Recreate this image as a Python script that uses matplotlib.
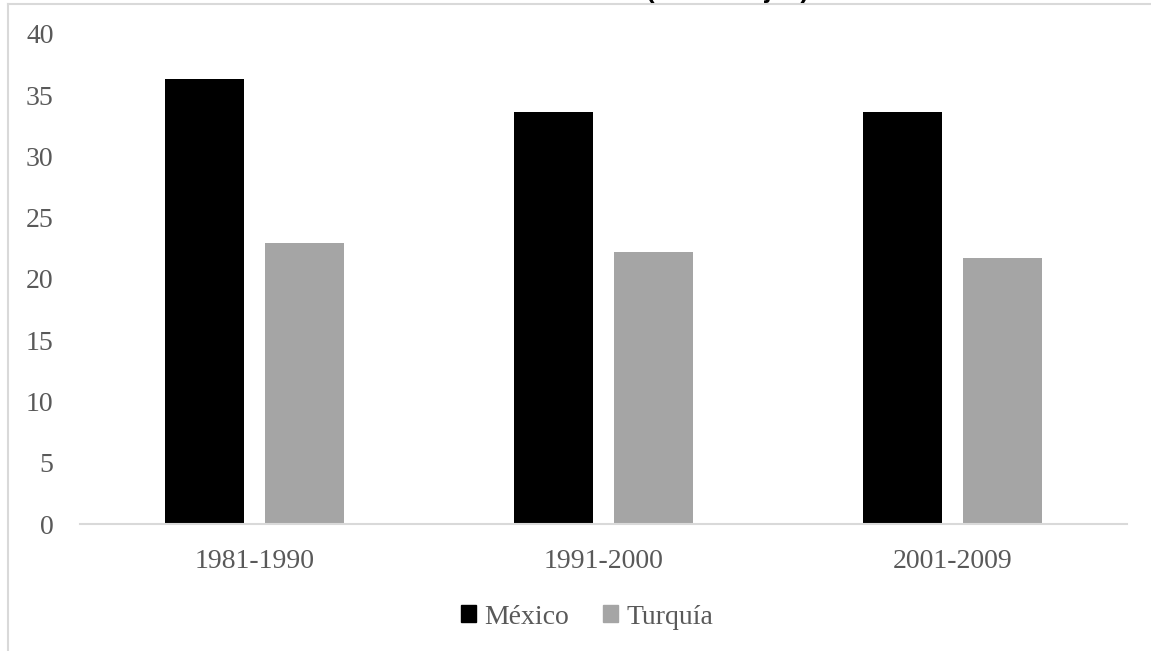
import numpy as np
import matplotlib.pyplot as plt
from matplotlib.lines import Line2D
from matplotlib.patches import Patch

# Valores por periodo
periodos = ['1981-1990', '1991-2000', '2001-2009']
mexico = [36.3, 33.6, 33.6]
turquia = [22.9, 22.2, 21.7]

color_texto = '#595959'
color_borde = '#d9d9d9'

plt.rcParams['font.family'] = ['Liberation Serif', 'DejaVu Serif']

fig = plt.figure(figsize=(11.51, 6.51), dpi=100)
ax = fig.add_axes([0.0695, 0.195, 0.9095, 0.753])

x = np.arange(len(periodos))
ancho = 0.226
ax.bar(x - 0.143, mexico, ancho, color='#000000', label='México')
ax.bar(x + 0.143, turquia, ancho, color='#a5a5a5', label='Turquía')

ax.set_xlim(-0.5, len(periodos) - 0.5)
ax.set_ylim(0, 40)
ax.set_yticks(np.arange(0, 41, 5))
ax.set_xticks(x)
ax.set_xticklabels(periodos)

for lado in ['top', 'right', 'left']:
    ax.spines[lado].set_visible(False)
ax.spines['bottom'].set_color(color_borde)
ax.spines['bottom'].set_linewidth(1.5)
ax.tick_params(axis='both', length=0, labelsize=20, labelcolor=color_texto)
ax.tick_params(axis='y', pad=19)
ax.tick_params(axis='x', pad=18)

# Marco del gráfico (recortado arriba y a la derecha)
fig.add_artist(Line2D([8 / 1151, 8 / 1151], [0, 1 - 4 / 651], color=color_borde, lw=1.5))
fig.add_artist(Line2D([8 / 1151, 1], [1 - 4 / 651, 1 - 4 / 651], color=color_borde, lw=1.5))

# Título, casi fuera del lienzo
fig.text(810 / 1151, 1 + 2 / 651, '(Porcentajes)', ha='right', va='baseline',
         fontsize=18.6, fontweight='bold', family=['Liberation Sans', 'DejaVu Sans'])

handles = [Patch(color='#000000', label='México'), Patch(color='#a5a5a5', label='Turquía')]
leg = fig.legend(handles=handles, loc='center', bbox_to_anchor=(587 / 1151, 1 - 617 / 651),
                 ncol=2, frameon=False, fontsize=20, handlelength=0.55, handleheight=0.55,
                 handletextpad=0.3, columnspacing=1.2)
for t in leg.get_texts():
    t.set_color(color_texto)

fig.savefig('out.png', dpi=100)
